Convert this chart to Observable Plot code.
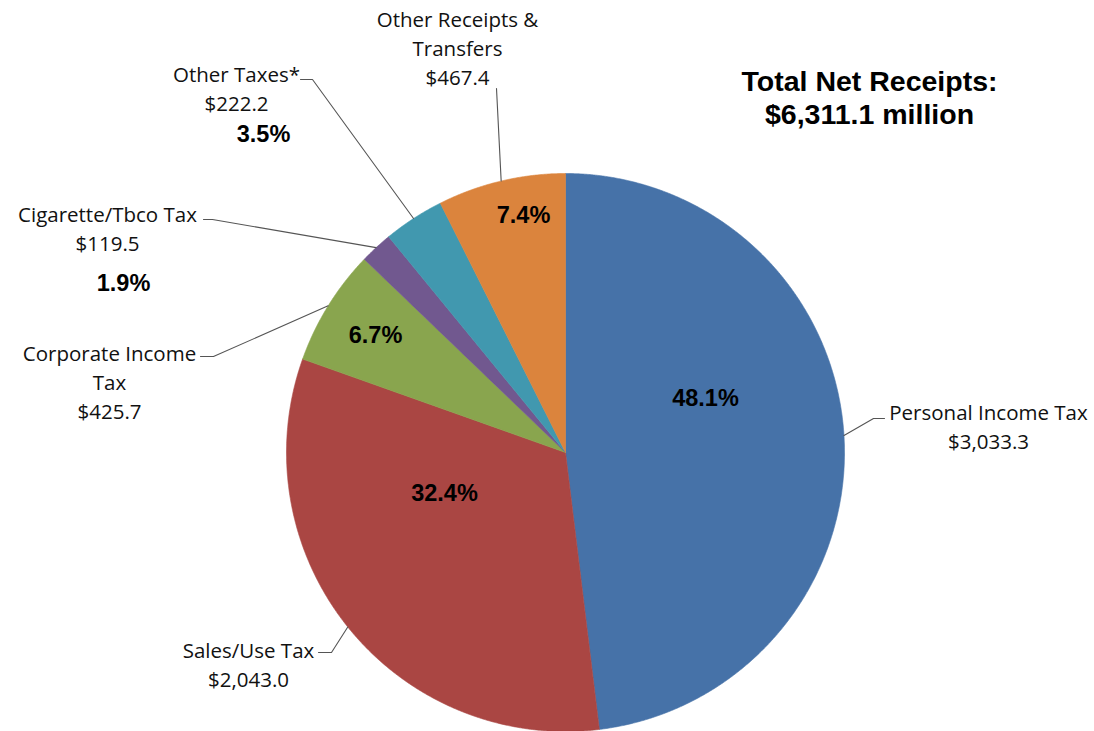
<!DOCTYPE html>
<html>
<head>
<meta charset="utf-8">
<script src="https://cdn.jsdelivr.net/npm/d3@7"></script>
<script src="https://cdn.jsdelivr.net/npm/@observablehq/plot@0.6"></script>
<style>
  html, body { margin: 0; padding: 0; background: #fff; }
  #chart svg { display: block; }
</style>
</head>
<body>
<div id="chart"></div>
<script>
// ---------- DATA ----------
const categories = ["Personal Income Tax", "Sales/Use Tax", "Corporate Income Tax", "Cigarette/Tbco Tax", "Other Taxes*", "Other Receipts & Transfers"];
const values = [3033.3, 2043.0, 425.7, 119.5, 222.2, 467.4];
const nameLabels = ["Personal Income Tax", "Sales/Use Tax", "Corporate Income\nTax", "Cigarette/Tbco Tax", "Other Taxes*", "Other Receipts &\nTransfers"];
const valueLabels = ["$3,033.3", "$2,043.0", "$425.7", "$119.5", "$222.2", "$467.4"];
const percentLabels = ["48.1%", "32.4%", "6.7%", "1.9%", "3.5%", "7.4%"];
const colors = ["#4672A8", "#AA4643", "#89A54E", "#71588F", "#4198AF", "#DB843D"];
const titleText = "Total Net Receipts:\n$6,311.1 million";

// ---------- LAYOUT ----------
const W = 1094, H = 731;
const cx = 565, cy = 452, R = 279;
// label block centers (x, y), leader elbow/end, percent label positions
const layout = [
  {lx: 988, ly: 425, elbow: [873, 418], end: [884, 418], px: 705, py: 398},
  {lx: 248, ly: 662.5, elbow: [331, 652], end: [318, 652], px: 444, py: 493},
  {lx: 109, ly: 380, elbow: [213, 356], end: [200, 356], px: 375, py: 335},
  {lx: 107, ly: 226.5, elbow: [212, 219], end: [203, 219], px: 123, py: 283},
  {lx: 236, ly: 86.5, elbow: [312, 79], end: [300, 79], px: 263, py: 134},
  {lx: 457, ly: 46.5, elbow: [496, 88], end: [496, 88], px: 523, py: 215}
];

// ---------- DERIVED ----------
const pie = d3.pie().sort(null).startAngle(0).endAngle(2 * Math.PI)(values);
const polyPts = [];
pie.forEach((s, i) => {
  const name = categories[i];
  polyPts.push({name, x: cx, y: cy});
  const n = Math.max(4, Math.ceil((s.endAngle - s.startAngle) / 0.004));
  for (let k = 0; k <= n; k++) {
    const t = s.startAngle + (s.endAngle - s.startAngle) * k / n;
    polyPts.push({name, x: cx + R * Math.sin(t), y: cy - R * Math.cos(t)});
  }
  polyPts.push({name, x: cx, y: cy});
});

const leaderPts = [];
pie.forEach((s, i) => {
  const mid = (s.startAngle + s.endAngle) / 2;
  const L = layout[i];
  leaderPts.push({name: categories[i], x: cx + R * Math.sin(mid), y: cy - R * Math.cos(mid)});
  leaderPts.push({name: categories[i], x: L.elbow[0], y: L.elbow[1]});
  leaderPts.push({name: categories[i], x: L.end[0], y: L.end[1]});
});

const labelRows = categories.map((c, i) => ({
  text: nameLabels[i] + "\n" + valueLabels[i], x: layout[i].lx, y: layout[i].ly
}));
const pctRows = categories.map((c, i) => ({
  text: percentLabels[i], x: layout[i].px, y: layout[i].py
}));

const chart = Plot.plot({
  width: W,
  height: H,
  margin: 0,
  x: {domain: [0, W], range: [0, W], axis: null},
  y: {domain: [0, H], range: [0, H], axis: null},
  color: {domain: categories, range: colors},
  style: {background: "#fff"},
  marks: [
    Plot.line(polyPts, {x: "x", y: "y", z: "name", fill: "name", stroke: "name", strokeWidth: 0.6, curve: "linear"}),
    Plot.line(leaderPts, {x: "x", y: "y", z: "name", stroke: "#555", strokeWidth: 1.1}),
    Plot.text(labelRows, {x: "x", y: "y", text: "text", fontSize: 20.5, fontFamily: "'Open Sans', sans-serif", lineHeight: 1.41, textAnchor: "middle", fill: "#111"}),
    Plot.text(pctRows, {x: "x", y: "y", text: "text", fontSize: 23.5, fontWeight: "bold", fontFamily: "Arial, 'Liberation Sans', sans-serif", textAnchor: "middle", fill: "#000"}),
    Plot.text([titleText], {x: () => 869, y: () => 96.5, text: d => d, fontSize: 28.5, fontWeight: "bold", fontFamily: "Arial, 'Liberation Sans', sans-serif", lineHeight: 1.17, textAnchor: "middle", fill: "#000"})
  ]
});
document.getElementById("chart").appendChild(chart);
</script>
</body>
</html>
